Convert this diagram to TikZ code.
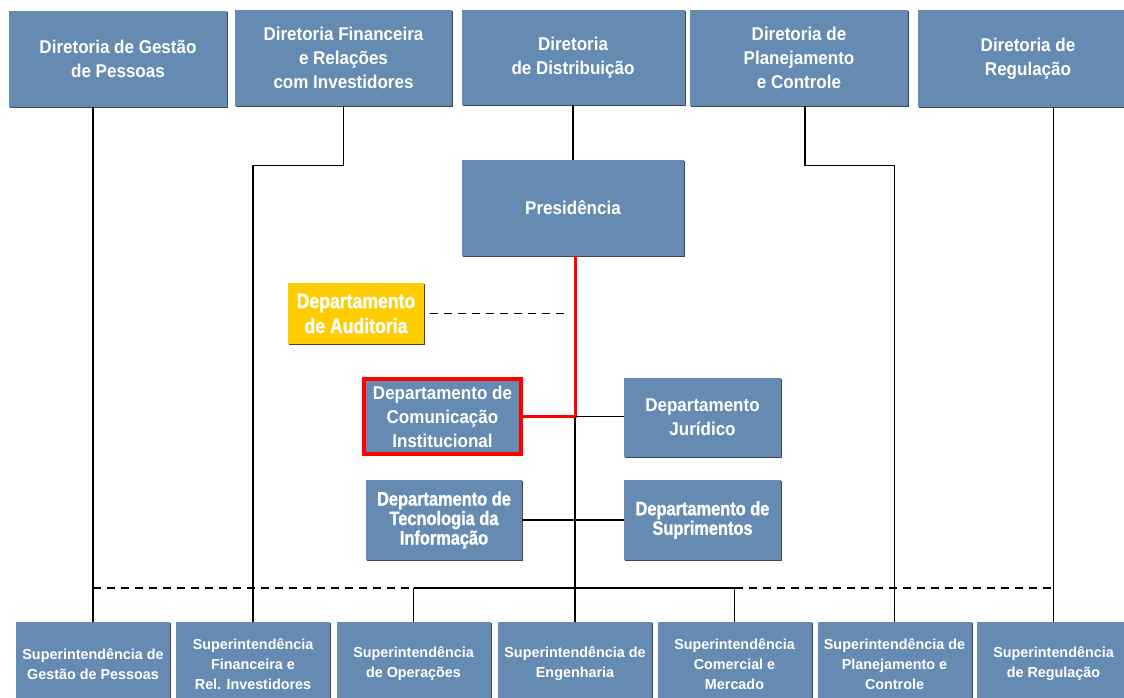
\documentclass[tikz,border=0pt]{standalone}
\usepackage{fontspec}
\usetikzlibrary{shadows}
\newfontfamily\condfont{Liberation Sans}[FakeStretch=0.92]
\newfontfamily\heavyfont{Liberation Sans}[FakeStretch=0.84,FakeBold=1.2]
\newfontfamily\supfont{Liberation Sans}[FakeStretch=0.99]
\definecolor{boxblue}{HTML}{658BB2}
\definecolor{audyellow}{HTML}{FFCC00}
\definecolor{shadowc}{HTML}{3E4650}
\definecolor{linered}{HTML}{FF0000}
\tikzset{
  basebox/.style={fill=boxblue,text=white,align=center,inner sep=0pt,
    general shadow={shadow xshift=1.3pt,shadow yshift=-1.3pt,fill=shadowc}},
  dirbox/.style={basebox,font=\condfont\bfseries\fontsize{18.5}{24}\selectfont},
  supbox/.style={basebox,font=\supfont\bfseries\fontsize{14.5}{20}\selectfont,
    minimum width=154pt,minimum height=84pt},
  heavybox/.style={basebox,font=\heavyfont\bfseries\fontsize{19.5}{19.5}\selectfont},
  conn/.style={draw=black,line width=1.2pt},
  dashconn/.style={conn,dash pattern=on 8pt off 6pt},
  redconn/.style={draw=linered,line width=3pt}
}
\begin{document}
\begin{tikzpicture}[x=1pt,y=-1pt]
\useasboundingbox (0,0) rectangle (1124,697);
\clip (0,0) rectangle (1124,697);
\fill[white] (0,0) rectangle (1124,697);
% top row
\node[dirbox,minimum width=218pt,minimum height=96pt] (d1) at (118,59) {Diretoria de Gestão\\de Pessoas};
\node[dirbox,minimum width=217pt,minimum height=96pt] (d2) at (343.5,58) {Diretoria Financeira\\e Relações\\com Investidores};
\node[dirbox,minimum width=223pt,minimum height=95pt] (d3) at (573,57.5) {Diretoria\\de Distribuição};
\node[dirbox,minimum width=218pt,minimum height=96pt] (d4) at (799,58) {Diretoria de\\Planejamento\\e Controle};
\node[dirbox,minimum width=220pt,minimum height=97pt] (d5) at (1028,58.5) {Diretoria de\\Regulação};
% middle
\node[dirbox,minimum width=222pt,minimum height=96pt] (pres) at (573,208) {Presidência};
\node[basebox,fill=audyellow,font=\heavyfont\bfseries\fontsize{21}{25}\selectfont,
      minimum width=136pt,minimum height=61pt] (aud) at (356,313.5) {Departamento\\de Auditoria};
\node[dirbox,draw=linered,line width=3.5pt,minimum width=157pt,minimum height=75pt] (com) at (442.5,416.5) {Departamento de\\Comunicação\\Institucional};
\node[dirbox,minimum width=157pt,minimum height=79pt] (jur) at (702.5,417.5) {Departamento\\Jurídico};
\node[heavybox,minimum width=156pt,minimum height=80pt] (tec) at (444,520) {Departamento de\\Tecnologia da\\Informação};
\node[heavybox,minimum width=157pt,minimum height=80pt] (sup) at (702.5,520) {Departamento de\\Suprimentos};
% bottom row
\node[supbox] (s1) at (93,664) {Superintendência de\\Gestão de Pessoas};
\node[supbox] (s2) at (253,664) {Superintendência\\Financeira e\\Rel. Investidores};
\node[supbox] (s3) at (413.5,664) {Superintendência\\de Operações};
\node[supbox] (s4) at (575,664) {Superintendência de\\Engenharia};
\node[supbox] (s5) at (734.5,664) {Superintendência\\Comercial e\\Mercado};
\node[supbox] (s6) at (894.5,664) {Superintendência de\\Planejamento e\\Controle};
\node[supbox] (s7) at (1053.5,664) {Superintendência\\de Regulação};
% coordinates
\coordinate (bus) at (0,588);
\coordinate (j) at (s4.north |- com.east);
% connectors
\draw[conn] (s1.north |- d1.south) -- (s1.north);
\draw[conn] (d2.south) -- ++(0,59) -| (s2.north);
\draw[conn] (d3.south) -- (pres.north);
\draw[conn] ([xshift=6pt]d4.south) -- ++(0,59) -| (s6.north);
\draw[conn] (s7.north |- d5.south) -- (s7.north);
\draw[redconn] (s4.north |- pres.south) |- (com.east);
\draw[conn] (j) -- (j -| jur.west);
\draw[conn] ([yshift=-1.5pt]j) -- (s4.north);
\draw[conn] (tec.east) -- (sup.west);
\draw[dashconn] ([xshift=6pt]aud.east) -- ([xshift=-6pt]j |- aud.east);
\draw[dashconn] (s1.north |- bus) -- (s3.north |- bus);
\draw[conn] (s3.north |- bus) -- (s5.north |- bus);
\draw[dashconn] (s5.north |- bus) -- (s7.north |- bus);
\draw[conn] (s3.north |- bus) -- (s3.north);
\draw[conn] (s5.north |- bus) -- (s5.north);
\end{tikzpicture}
\end{document}
